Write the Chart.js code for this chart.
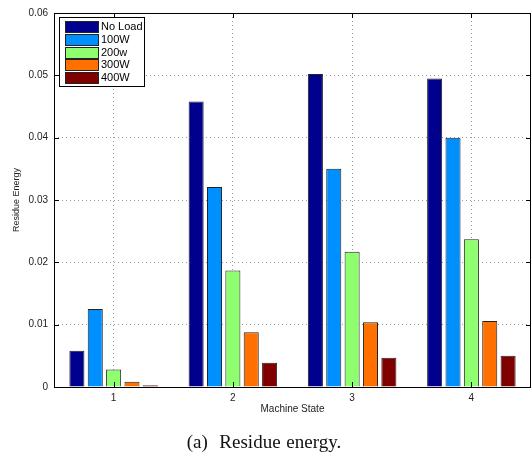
<!DOCTYPE html>
<html><head><meta charset="utf-8">
<script src="https://cdn.jsdelivr.net/npm/chart.js@4"></script>
<style>
html,body{margin:0;padding:0;background:#fff;}
#wrap{position:relative;width:532px;height:456px;}
#cap{position:absolute;left:0;width:528px;top:431px;text-align:center;font-family:"Liberation Serif","DejaVu Serif",serif;font-size:19px;color:#111;word-spacing:1px;}
</style></head>
<body><div id="wrap"><canvas id="c" width="532" height="456"></canvas><div id="cap">(a)&nbsp; Residue energy.</div></div>
<script>
const categories = ['1','2','3','4'];
const seriesNames = ['No Load','100W','200w','300W','400W'];
const noLoad = [0.0058, 0.0458, 0.0502, 0.0495];
const w100 = [0.0125, 0.0321, 0.0350, 0.0400];
const w200 = [0.0028, 0.0187, 0.0217, 0.0237];
const w300 = [0.00085, 0.0088, 0.0104, 0.0106];
const w400 = [0.0003, 0.0039, 0.0047, 0.0050];
const yTicks = [0, 0.01, 0.02, 0.03, 0.04, 0.05, 0.06];
const colors = ['#00008F','#008FFF','#8FFF70','#FF7000','#800000'];
const seriesValues = [noLoad, w100, w200, w300, w400];

const FONT = '"Liberation Sans", Arial, sans-serif';

const frame = {
  id:'frame',
  afterDraw(chart){
    const {ctx, chartArea:a, scales} = chart;
    ctx.save();
    ctx.strokeStyle='#000'; ctx.lineWidth=1;
    ctx.strokeRect(Math.round(a.left)+0.5, Math.round(a.top)+0.5, Math.round(a.right-a.left)-1, Math.round(a.bottom-a.top));
    const L=5;
    scales.y.ticks.forEach((t,i)=>{
      const y=Math.round(scales.y.getPixelForTick(i))+0.5;
      ctx.beginPath(); ctx.moveTo(a.left,y); ctx.lineTo(a.left+L,y);
      ctx.moveTo(a.right,y); ctx.lineTo(a.right-L,y); ctx.stroke();
    });
    scales.x.ticks.forEach((t,i)=>{
      const x=Math.round(scales.x.getPixelForTick(i))+0.5;
      ctx.beginPath(); ctx.moveTo(x,a.bottom); ctx.lineTo(x,a.bottom-L);
      ctx.moveTo(x,a.top); ctx.lineTo(x,a.top+L); ctx.stroke();
    });
    const ds = chart.data.datasets;
    const bx=a.left+5, by=a.top+4, bw=85, rowH=12.8, bh=ds.length*rowH+5;
    ctx.fillStyle='#fff'; ctx.fillRect(bx,by,bw,bh);
    ctx.strokeRect(Math.round(bx)+0.5,Math.round(by)+0.5,bw,bh);
    ctx.font='11px '+FONT; ctx.textBaseline='middle'; ctx.textAlign='left';
    ds.forEach((d,i)=>{
      const cy = by+3+rowH*i+rowH/2;
      ctx.fillStyle=d.backgroundColor;
      ctx.fillRect(bx+6.5, Math.round(cy-5.5)+0.5, 33, 11);
      ctx.strokeStyle='#222';
      ctx.strokeRect(bx+6.5, Math.round(cy-5.5)+0.5, 33, 11);
      ctx.fillStyle='#000';
      ctx.fillText(d.label, bx+42, cy+0.5);
    });
    ctx.restore();
  }
};

new Chart(document.getElementById('c'), {
  type:'bar',
  data:{
    labels:categories,
    datasets: seriesNames.map((n,i)=>({label:n, data:seriesValues[i], backgroundColor:colors[i], borderColor:'#222', borderWidth:1, categoryPercentage:0.77, barPercentage:0.82}))
  },
  options:{
    responsive:false, animation:false,
    layout:{padding:{top:13,right:1,left:0,bottom:41}},
    plugins:{legend:{display:false}, tooltip:{enabled:false}},
    scales:{
      x:{
        grid:{offset:false, color:'#9a9a9a', drawTicks:false, lineWidth:1},
        border:{display:false, dash:[1,3]},
        ticks:{font:{family:FONT,size:10}, color:'#222', padding:5},
        title:{display:true, text:'Machine State', font:{family:FONT,size:10}, color:'#222', padding:{top:0,bottom:0}},
        afterFit(s){ s.height=28; }
      },
      y:{
        min:0, max:0.06,
        afterBuildTicks(s){ s.ticks = yTicks.map(v=>({value:v})); },
        grid:{color:'#9a9a9a', drawTicks:false, lineWidth:1},
        border:{display:false, dash:[1,3]},
        ticks:{font:{family:FONT,size:10}, color:'#222', padding:6, callback:v=> v===0?'0':v.toFixed(2)},
        title:{display:true, text:'Residue Energy', font:{family:FONT,size:9}, color:'#222', padding:{top:11,bottom:0}},
        afterFit(s){ s.width=54; }
      }
    }
  },
  plugins:[frame]
});
</script></body></html>
